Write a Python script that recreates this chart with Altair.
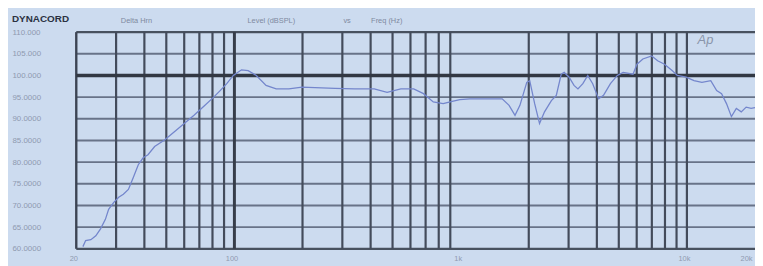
import altair as alt
import pandas as pd

# ---- data ----
freq_hz = [21.4, 22.0, 23.2, 24.4, 25.6, 26.9, 27.8, 29.3, 30.8, 32.3, 34.0, 35.7, 37.6, 39.5,
           41.5, 44.4, 49.1, 54.3, 60.0, 66.3, 73.3, 81.0, 86.5, 92.5, 98.9, 107.5, 115, 125,
           138, 153, 174, 199, 278, 340, 415, 473, 544, 620, 685, 757, 837, 898, 992, 1097,
           1212, 1526, 1637, 1739, 1828, 1960, 2020, 2124, 2232, 2348, 2518, 2647, 2784, 2868,
           3016, 3170, 3300, 3468, 3646, 3834, 4072, 4280, 4592, 4926, 5230, 5780, 6016, 6388,
           6990, 7424, 7962, 8626, 9070, 9924, 10750, 11652, 12750, 13538, 14234, 14964, 15732,
           16538, 17388, 18280, 19212, 20000]
level_db = [60.5, 61.9, 62.1, 63.0, 64.6, 66.8, 69.1, 70.7, 71.9, 72.6, 73.7, 76.4, 79.4, 81.0,
            81.7, 83.6, 85.1, 87.0, 88.9, 90.8, 92.9, 95.0, 96.5, 98.1, 100.0, 101.3, 101.1, 100.0,
            97.7, 96.9, 96.9, 97.3, 97.0, 96.9, 96.9, 96.1, 96.9, 96.9, 95.8, 93.9, 93.5, 93.9,
            94.4, 94.6, 94.6, 94.6, 93.1, 90.8, 93.1, 98.4, 98.8, 93.5, 88.9, 91.6, 94.2, 95.4,
            100.3, 100.7, 99.6, 97.7, 96.9, 98.1, 100.0, 98.1, 94.6, 95.4, 98.1, 100.0, 100.7,
            100.3, 102.6, 103.8, 104.5, 103.4, 102.6, 101.1, 100.0, 99.6, 98.8, 98.4, 98.8, 96.5,
            95.8, 93.5, 90.5, 92.4, 91.6, 92.7, 92.4, 92.6]

grid_minor_hz = [30, 40, 50, 60, 70, 80, 90, 200, 300, 400, 500, 600, 700, 800, 900,
                 2000, 3000, 4000, 5000, 6000, 7000, 8000, 9000, 10000]
grid_major_hz = [100]
grid_edge_hz = [20]
grid_minor_db = [65, 70, 75, 80, 85, 90, 95, 105]
grid_major_db = [100]
grid_edge_db = [60, 110]

x_tick_values = [20, 100, 1000, 10000, 20000]
x_tick_labels = ["20", "100", "1k", "10k", "20k"]
y_tick_values = [60, 65, 70, 75, 80, 85, 90, 95, 100, 105, 110]
y_tick_labels = ["60.0000", "65.0000", "70.0000", "75.0000", "80.0000", "85.0000",
                 "90.0000", "95.0000", "100.000", "105.000", "110.000"]

header_brand = "DYNACORD"
header_title = "Delta Hrn"
header_y = "Level (dBSPL)"
header_vs = "vs"
header_x = "Freq (Hz)"
logo = "Ap"

# ---- build ----
FONT = "Liberation Sans"
BG = "#ccdbef"
LABEL_COLOR = "#8f9ab0"
HEAD_COLOR = "#7f8aa0"

xscale = alt.Scale(type="log", domain=[20, 20000], nice=False)
yscale = alt.Scale(domain=[60, 110], nice=False, zero=False)


def expr_map(values, labels):
    return " : ".join(
        [f"datum.value == {v} ? '{l}'" for v, l in zip(values, labels)] + ["''"]
    )


xaxis = alt.Axis(values=x_tick_values, labelExpr=expr_map(x_tick_values, x_tick_labels),
                 grid=False, ticks=False, domain=False, labelFont=FONT,
                 labelFontSize=7.5, labelColor=LABEL_COLOR, labelPadding=6,
                 labelOffset=-3, labelFlush=False, labelOverlap=False, title=None,
                 labelAlign={"condition": {"test": f"datum.value >= {x_tick_values[-1]}",
                                           "value": "right"},
                             "value": "center"})
yaxis = alt.Axis(values=y_tick_values, labelExpr=expr_map(y_tick_values, y_tick_labels),
                 grid=False, ticks=False, domain=False, labelFont=FONT,
                 labelFontSize=8, labelColor=LABEL_COLOR, labelAlign="left",
                 labelPadding=65, labelBaseline="middle", labelFlush=False,
                 labelOverlap=False, title=None)

curve = pd.DataFrame({"f": freq_hz, "db": level_db})


def vrules(vals, color, width):
    return alt.Chart(pd.DataFrame({"f": vals})).mark_rule(
        color=color, strokeWidth=width
    ).encode(x=alt.X("f:Q", scale=xscale, axis=xaxis))


def hrules(vals, color, width):
    return alt.Chart(pd.DataFrame({"db": vals})).mark_rule(
        color=color, strokeWidth=width
    ).encode(y=alt.Y("db:Q", scale=yscale, axis=yaxis))


h_minor = hrules(grid_minor_db, "#687388", 2)
h_edge = hrules(grid_edge_db, "#48515f", 2.2)
v_minor = vrules(grid_minor_hz, "#434b5b", 2.2)
v_edge = vrules(grid_edge_hz, "#3c4453", 2.4)
h_major = hrules(grid_major_db, "#323843", 3.6)
v_major = vrules(grid_major_hz, "#363d4a", 3)

line = alt.Chart(curve).mark_line(color="#7486cc", strokeWidth=1.3, clip=True).encode(
    x=alt.X("f:Q", scale=xscale, axis=xaxis),
    y=alt.Y("db:Q", scale=yscale, axis=yaxis),
)


def txt(s, x, y, size, color, weight="normal", style="normal"):
    return alt.Chart(pd.DataFrame({"t": [s]})).mark_text(
        align="left", baseline="middle", font=FONT, fontSize=size, color=color,
        fontWeight=weight, fontStyle=style
    ).encode(text="t:N", x=alt.value(x), y=alt.value(y))


brand = txt(header_brand, -65, -13, 10, "#2b3142", weight="bold")
t1 = txt(header_title, 45, -11, 7.5, HEAD_COLOR)
t2 = txt(header_y, 173, -11, 7.5, HEAD_COLOR)
t3 = txt(header_vs, 270, -11, 7.5, HEAD_COLOR)
t4 = txt(header_x, 298, -11, 7.5, HEAD_COLOR)
ap = txt(logo, 628, 8, 13, "#8a95aa", style="italic")

chart = alt.layer(
    h_minor, h_edge, v_minor, v_edge, h_major, v_major, line,
    brand, t1, t2, t3, t4, ap
).properties(
    width=686, height=219,
    autosize=alt.AutoSizeParams(type="none"),
    padding={"left": 69, "top": 23, "right": 0, "bottom": 16},
    background=BG,
).configure_view(stroke=None)

chart.save("out.html", embed_options={"renderer": "svg", "actions": False})
